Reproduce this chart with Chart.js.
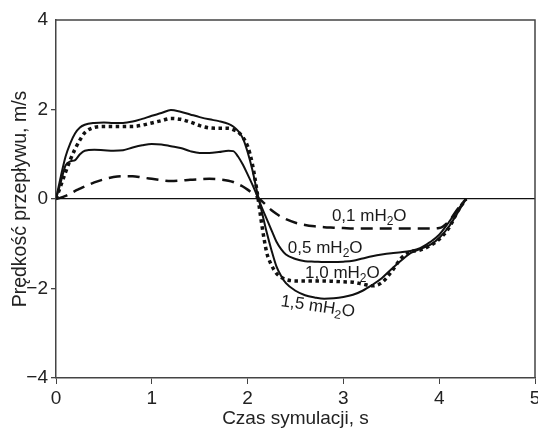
<!DOCTYPE html>
<html lang="pl">
<head>
<meta charset="UTF-8">
<title>Prędkość przepływu</title>
<script src="https://cdn.jsdelivr.net/npm/chart.js@4.4.1/dist/chart.umd.min.js"></script>
<style>
  html, body { margin: 0; padding: 0; background: #fff; }
  canvas { display: block; }
</style>
</head>
<body>
<canvas id="lineChart" width="538" height="429"></canvas>
<script>
// Temps de simulation (s)
const czas = [0, 0.05, 0.1, 0.15, 0.2, 0.25, 0.3, 0.4, 0.5, 0.6, 0.7, 0.8, 0.9, 1.0, 1.1, 1.2, 1.3, 1.4, 1.5, 1.6, 1.7, 1.8, 1.85, 1.9, 1.95, 2.0, 2.05, 2.1, 2.15, 2.2, 2.25, 2.3, 2.35, 2.4, 2.5, 2.6, 2.7, 2.8, 2.9, 3.0, 3.1, 3.2, 3.3, 3.4, 3.5, 3.6, 3.7, 3.8, 3.9, 4.0, 4.1, 4.2, 4.28];

// Vitesse (m/s) pour chaque pression
const v01 = [0, 0.03, 0.07, 0.12, 0.18, 0.23, 0.28, 0.37, 0.44, 0.49, 0.51, 0.51, 0.48, 0.45, 0.42, 0.40, 0.41, 0.43, 0.44, 0.45, 0.44, 0.41, 0.38, 0.33, 0.28, 0.21, 0.13, 0.04, -0.05, -0.15, -0.25, -0.33, -0.40, -0.45, -0.53, -0.58, -0.61, -0.63, -0.64, -0.65, -0.66, -0.66, -0.66, -0.66, -0.66, -0.66, -0.66, -0.66, -0.66, -0.65, -0.50, -0.20, 0];
const v05 = [0, 0.38, 0.75, 0.84, 0.87, 1.0, 1.08, 1.10, 1.09, 1.08, 1.09, 1.15, 1.20, 1.23, 1.22, 1.18, 1.14, 1.07, 1.03, 1.03, 1.05, 1.08, 1.07, 0.95, 0.77, 0.55, 0.32, 0.07, -0.20, -0.45, -0.70, -0.95, -1.12, -1.24, -1.34, -1.39, -1.40, -1.41, -1.41, -1.40, -1.38, -1.33, -1.28, -1.24, -1.21, -1.19, -1.16, -1.10, -0.97, -0.80, -0.52, -0.22, 0];
const v10 = [0, 0.30, 0.60, 0.88, 1.12, 1.32, 1.48, 1.60, 1.62, 1.62, 1.62, 1.62, 1.65, 1.70, 1.75, 1.80, 1.78, 1.72, 1.64, 1.59, 1.58, 1.58, 1.55, 1.50, 1.38, 1.18, 0.78, 0.15, -0.60, -1.20, -1.48, -1.66, -1.75, -1.80, -1.83, -1.83, -1.83, -1.83, -1.84, -1.85, -1.86, -1.90, -1.94, -1.87, -1.63, -1.33, -1.18, -1.14, -1.05, -0.90, -0.65, -0.25, 0];
const v15 = [0, 0.50, 0.95, 1.25, 1.47, 1.60, 1.66, 1.70, 1.71, 1.70, 1.70, 1.73, 1.79, 1.86, 1.92, 1.99, 1.95, 1.89, 1.83, 1.78, 1.74, 1.68, 1.62, 1.52, 1.36, 1.05, 0.65, 0.15, -0.30, -0.75, -1.15, -1.50, -1.72, -1.88, -2.05, -2.15, -2.20, -2.23, -2.22, -2.19, -2.14, -2.05, -1.92, -1.77, -1.57, -1.38, -1.21, -1.12, -1.03, -0.87, -0.62, -0.28, 0];

// Étiquettes des courbes (texte, position en unités du graphique, angle)
const etiquettes = [
  { texte: '0,1', x: 2.88, y: -0.49, angle: 0 },
  { texte: '0,5', x: 2.42, y: -1.21, angle: 0 },
  { texte: '1,0', x: 2.60, y: -1.77, angle: 0 },
  { texte: '1,5', x: 2.34, y: -2.39, angle: 8.5 }
];

const police = '"Liberation Sans", Arial, sans-serif';

function points(valeurs) {
  return czas.map((t, i) => ({ x: t, y: valeurs[i] }));
}

// Cadre haut/droite + étiquettes mH2O
const cadre = {
  id: 'cadre',
  afterDraw(chart) {
    const { ctx, chartArea: a, scales: { x, y } } = chart;
    ctx.save();
    ctx.strokeStyle = '#444';
    ctx.lineWidth = 1.5;
    ctx.beginPath();
    ctx.moveTo(a.left, a.top);
    ctx.lineTo(a.right, a.top);
    ctx.lineTo(a.right, a.bottom);
    ctx.stroke();

    ctx.fillStyle = '#1a1a1a';
    ctx.textBaseline = 'alphabetic';
    etiquettes.forEach(e => {
      ctx.save();
      ctx.translate(x.getPixelForValue(e.x), y.getPixelForValue(e.y));
      ctx.rotate(e.angle * Math.PI / 180);
      ctx.font = '17px ' + police;
      const debut = e.texte + ' mH';
      ctx.fillText(debut, 0, 0);
      let dx = ctx.measureText(debut).width;
      ctx.font = '12px ' + police;
      ctx.fillText('2', dx, 4);
      dx += ctx.measureText('2').width;
      ctx.font = '17px ' + police;
      ctx.fillText('O', dx, 0);
      ctx.restore();
    });
    ctx.restore();
  }
};

const ctxLine = document.getElementById('lineChart').getContext('2d');
const lineChart = new Chart(ctxLine, {
  type: 'line',
  data: {
    datasets: [
      {
        label: '0,1 mH2O',
        data: points(v01),
        borderColor: '#111',
        borderWidth: 2.5,
        borderDash: [12, 7]
      },
      {
        label: '0,5 mH2O',
        data: points(v05),
        borderColor: '#111',
        borderWidth: 2
      },
      {
        label: '1,5 mH2O',
        data: points(v15),
        borderColor: '#111',
        borderWidth: 2
      },
      {
        label: '1,0 mH2O',
        data: points(v10),
        borderColor: '#111',
        borderWidth: 3.5,
        borderDash: [3.5, 3.5]
      }
    ]
  },
  options: {
    responsive: false,
    animation: false,
    layout: { padding: { top: 20, right: 3, left: 0, bottom: 0 } },
    elements: {
      point: { radius: 0 },
      line: { cubicInterpolationMode: 'monotone', borderCapStyle: 'butt', fill: false }
    },
    plugins: {
      legend: { display: false },
      tooltip: { enabled: false }
    },
    scales: {
      x: {
        type: 'linear',
        min: 0,
        max: 5,
        afterFit(scale) { scale.height = 51; scale.paddingLeft = 0; scale.paddingRight = 0; },
        border: { display: true, color: '#444', width: 1.5 },
        grid: { display: true, drawOnChartArea: false, drawTicks: true, tickLength: 6, tickColor: '#444' },
        ticks: { stepSize: 1, color: '#222', padding: 3.5, maxRotation: 0, font: { family: police, size: 19 } },
        title: { display: true, text: 'Czas symulacji, s', color: '#222', padding: { top: 0, bottom: 0.5 }, font: { family: police, size: 19, lineHeight: 1 } }
      },
      y: {
        min: -4,
        max: 4,
        afterFit(scale) { scale.width = 56; },
        border: { display: true, color: '#444', width: 1.5 },
        grid: {
          display: true,
          drawTicks: true,
          tickLength: 5,
          tickColor: ctx => ctx.tick && ctx.tick.value === 4 ? 'rgba(0,0,0,0)' : '#444',
          color: ctx => ctx.tick && ctx.tick.value === 0 ? '#111' : 'rgba(0,0,0,0)',
          lineWidth: 1.3
        },
        ticks: {
          stepSize: 2,
          color: '#222',
          padding: 3,
          font: { family: police, size: 19 },
          callback: v => v < 0 ? '−' + Math.abs(v) : String(v)
        },
        title: { display: true, text: 'Prędkość przepływu, m/s', color: '#222', padding: { top: 10.5, bottom: 0 }, font: { family: police, size: 19.5, lineHeight: 1 } }
      }
    }
  },
  plugins: [cadre]
});
</script>
</body>
</html>
